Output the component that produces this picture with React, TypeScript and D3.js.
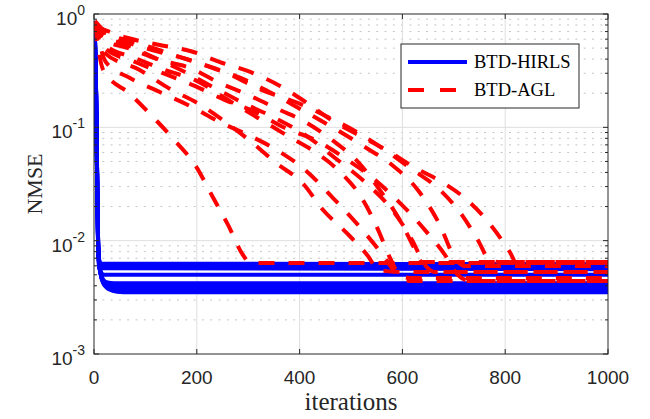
import React from "react";
import * as d3 from "d3";

type Pt = [number, number];

const xTicks = [0, 200, 400, 600, 800, 1000];
const yDecades = [0, -1, -2, -3];
const yMinorMult = [2, 3, 4, 5, 6, 7, 8, 9];
const legendLabels = ["BTD-HIRLS", "BTD-AGL"];
const xLabel = "iterations";
const yLabel = "NMSE";

// BTD-HIRLS runs
const hirls1: Pt[] = [[1, 0.85], [4, 0.21], [6, 0.04], [8, 0.0095], [10, 0.0068], [14, 0.0063], [1000, 0.0062]];
const hirls2: Pt[] = [[1, 0.86], [4, 0.2], [6, 0.038], [8, 0.009], [10, 0.0064], [14, 0.006], [1000, 0.0059]];
const hirls3: Pt[] = [[1, 0.84], [4, 0.19], [6, 0.036], [8, 0.0088], [10, 0.0062], [15, 0.0057], [1000, 0.0056]];
const hirls4: Pt[] = [[1, 0.85], [4, 0.2], [6, 0.037], [8, 0.0086], [10, 0.0058], [14, 0.0052], [20, 0.005], [1000, 0.005]];
const hirls5: Pt[] = [[1, 0.86], [4, 0.22], [6, 0.042], [8, 0.0098], [10, 0.0066], [13, 0.0053], [17, 0.0046], [24, 0.0043], [40, 0.0042], [1000, 0.0042]];
const hirls6: Pt[] = [[1, 0.85], [4, 0.2], [6, 0.04], [8, 0.0095], [10, 0.0064], [13, 0.0051], [18, 0.0044], [26, 0.0041], [45, 0.004], [1000, 0.004]];
const hirls7: Pt[] = [[1, 0.87], [4, 0.21], [6, 0.041], [8, 0.0097], [10, 0.0065], [13, 0.0051], [18, 0.0043], [27, 0.0039], [45, 0.0038], [1000, 0.0038]];
const hirls8: Pt[] = [[1, 0.85], [4, 0.2], [6, 0.039], [8, 0.0093], [10, 0.0063], [13, 0.005], [18, 0.0042], [28, 0.0038], [50, 0.00366], [1000, 0.00365]];
const hirls9: Pt[] = [[1, 0.86], [4, 0.21], [6, 0.04], [8, 0.0096], [10, 0.0064], [13, 0.0051], [17, 0.0044], [22, 0.004], [30, 0.0037], [45, 0.00355], [70, 0.0035], [1000, 0.0035]];

// BTD-AGL runs
const agl1: Pt[] = [[2, 0.8], [18, 0.32], [70, 0.197], [115, 0.123], [158, 0.0757], [198, 0.0456], [230, 0.0248], [261, 0.0137], [290, 0.00747], [304, 0.00635], [1000, 0.00635]];
const agl2: Pt[] = [[2, 0.784], [66, 0.614], [128, 0.533], [187, 0.472], [245, 0.377], [304, 0.308], [362, 0.232], [412, 0.167], [459, 0.118], [518, 0.0839], [572, 0.0618], [625, 0.0438], [677, 0.0329], [728, 0.0224], [772, 0.0137], [809, 0.00794], [821, 0.00648], [1000, 0.00648]];
const agl3: Pt[] = [[2, 0.816], [19, 0.462], [89, 0.321], [148, 0.218], [204, 0.161], [261, 0.107], [304, 0.0757], [352, 0.0494], [409, 0.031], [444, 0.019], [490, 0.0119], [533, 0.00732], [553, 0.00551], [595, 0.00529], [1000, 0.00529]];
const agl4: Pt[] = [[2, 0.833], [21, 0.533], [80, 0.409], [138, 0.321], [196, 0.262], [261, 0.174], [319, 0.121], [377, 0.0839], [430, 0.0606], [479, 0.0403], [521, 0.0238], [553, 0.0124], [576, 0.00703], [595, 0.00498], [615, 0.00469], [1000, 0.00469]];
const agl5: Pt[] = [[2, 0.85], [23, 0.377], [70, 0.272], [128, 0.205], [187, 0.154], [245, 0.111], [304, 0.0839], [362, 0.0606], [411, 0.042], [463, 0.0243], [514, 0.0137], [562, 0.00747], [591, 0.00498], [615, 0.00441], [1000, 0.00441]];
const agl6: Pt[] = [[2, 0.833], [19, 0.59], [66, 0.501], [128, 0.393], [187, 0.334], [241, 0.251], [300, 0.193], [362, 0.142], [412, 0.111], [463, 0.0773], [514, 0.0494], [556, 0.028], [595, 0.0152], [625, 0.00828], [638, 0.00648], [1000, 0.00648]];
const agl7: Pt[] = [[2, 0.85], [19, 0.64], [60, 0.543], [119, 0.409], [177, 0.308], [235, 0.222], [294, 0.161], [352, 0.121], [411, 0.0856], [469, 0.0536], [527, 0.0329], [580, 0.0187], [619, 0.0101], [644, 0.0061], [663, 0.00529], [1000, 0.00529]];
const agl8: Pt[] = [[2, 0.868], [18, 0.723], [54, 0.59], [113, 0.481], [173, 0.409], [233, 0.334], [294, 0.262], [352, 0.193], [411, 0.137], [473, 0.0947], [527, 0.067], [580, 0.0465], [630, 0.028], [673, 0.0137], [702, 0.00703], [722, 0.00597], [1000, 0.00597]];
const agl9: Pt[] = [[2, 0.85], [19, 0.694], [80, 0.566], [138, 0.462], [196, 0.377], [261, 0.296], [327, 0.213], [401, 0.161], [459, 0.121], [518, 0.0873], [566, 0.0631], [615, 0.0438], [673, 0.028], [716, 0.0168], [747, 0.0101], [770, 0.00675], [790, 0.00648], [1000, 0.00648]];
const agl10: Pt[] = [[2, 0.85], [21, 0.501], [80, 0.377], [138, 0.296], [196, 0.232], [255, 0.174], [313, 0.137], [372, 0.0986], [430, 0.0773], [488, 0.0536], [547, 0.0343], [599, 0.0207], [644, 0.0124], [683, 0.00747], [708, 0.00498], [732, 0.00441], [1000, 0.00441]];

const hirlsRuns = [hirls1, hirls2, hirls3, hirls4, hirls5, hirls6, hirls7, hirls8, hirls9];
const aglRuns = [agl1, agl2, agl3, agl4, agl5, agl6, agl7, agl8, agl9, agl10];

const W = 650;
const H = 419;
const L = 94, R = 608, T = 14, B = 354;
const AX = "#262626";
const SANS = "'Liberation Sans', Arial, Helvetica, sans-serif";
const SERIF = "'Liberation Serif', 'Times New Roman', serif";

export default function App() {
  const x = d3.scaleLinear().domain([0, 1000]).range([L, R]);
  const y = d3.scaleLog().domain([1e-3, 1]).range([B, T]);
  const line = d3
    .line<Pt>()
    .x((d) => x(d[0]))
    .y((d) => y(d[1]))
    .curve(d3.curveMonotoneX);

  const minorVals: number[] = [];
  yDecades.slice(1).forEach((e) => yMinorMult.forEach((m) => minorVals.push(m * Math.pow(10, e))));

  return (
    <svg width={W} height={H} style={{ position: "absolute", left: 0, top: 0, background: "#fff" }}>
      <defs>
        <clipPath id="plotClip">
          <rect x={L} y={T} width={R - L} height={B - T} />
        </clipPath>
      </defs>
      <rect x={0} y={0} width={W} height={H} fill="#fff" />
      {/* minor grid */}
      {minorVals.map((v, i) => (
        <line key={"mg" + i} x1={L} x2={R} y1={y(v)} y2={y(v)} stroke="#c4c4c4" strokeWidth={1} strokeDasharray="2 6.3" />
      ))}
      {/* major grid */}
      {xTicks.slice(1, -1).map((t) => (
        <line key={"gx" + t} x1={x(t)} x2={x(t)} y1={T} y2={B} stroke="#dedede" strokeWidth={1} />
      ))}
      {yDecades.slice(1, -1).map((e) => (
        <line key={"gy" + e} x1={L} x2={R} y1={y(Math.pow(10, e))} y2={y(Math.pow(10, e))} stroke="#dedede" strokeWidth={1} />
      ))}
      {/* data */}
      <g clipPath="url(#plotClip)" fill="none">
        {hirlsRuns.map((d, i) => (
          <path key={"h" + i} d={line(d) || ""} stroke="#0000ff" strokeWidth={4} strokeLinejoin="round" />
        ))}
        {aglRuns.map((d, i) => (
          <path key={"a" + i} d={line(d) || ""} stroke="#ff0000" strokeWidth={4} strokeDasharray="16 14" />
        ))}
      </g>
      {/* axes box */}
      <rect x={L} y={T} width={R - L} height={B - T} fill="none" stroke={AX} strokeWidth={1} />
      {/* x ticks */}
      {xTicks.map((t) => (
        <g key={"xt" + t}>
          <line x1={x(t)} x2={x(t)} y1={B} y2={B - 5} stroke={AX} />
          <line x1={x(t)} x2={x(t)} y1={T} y2={T + 5} stroke={AX} />
          <text x={x(t)} y={B + 30} textAnchor="middle" fontFamily={SANS} fontSize={19} fill={AX}>
            {t}
          </text>
        </g>
      ))}
      {/* y ticks */}
      {yDecades.map((e) => {
        const yy = y(Math.pow(10, e));
        return (
          <g key={"yt" + e}>
            <line x1={L} x2={L + 5} y1={yy} y2={yy} stroke={AX} />
            <line x1={R} x2={R - 5} y1={yy} y2={yy} stroke={AX} />
            <text x={85} y={yy + 11} textAnchor="end" fontFamily={SANS} fontSize={19} fill={AX}>
              10
              <tspan dy={-10} fontSize={14}>
                {String(e)}
              </tspan>
            </text>
          </g>
        );
      })}
      {minorVals.map((v, i) => (
        <g key={"ymt" + i}>
          <line x1={L} x2={L + 3} y1={y(v)} y2={y(v)} stroke={AX} />
          <line x1={R} x2={R - 3} y1={y(v)} y2={y(v)} stroke={AX} />
        </g>
      ))}
      {/* axis labels */}
      <text x={(L + R) / 2} y={410} textAnchor="middle" fontFamily={SERIF} fontSize={25} fill={AX}>
        {xLabel}
      </text>
      <text transform={`translate(42,${(T + B) / 2}) rotate(-90)`} textAnchor="middle" fontFamily={SERIF} fontSize={22} fill={AX}>
        {yLabel}
      </text>
      {/* legend */}
      <g>
        <rect x={401} y={44} width={178} height={64} fill="#fff" stroke={AX} strokeWidth={1} />
        <line x1={408} x2={467} y1={62} y2={62} stroke="#0000ff" strokeWidth={4} />
        <line x1={408} x2={467} y1={90} y2={90} stroke="#ff0000" strokeWidth={4} strokeDasharray="16 16" />
        <text x={474} y={67.5} fontFamily={SERIF} fontSize={18.5} fill="#000">
          {legendLabels[0]}
        </text>
        <text x={474} y={95.5} fontFamily={SERIF} fontSize={18.5} fill="#000">
          {legendLabels[1]}
        </text>
      </g>
    </svg>
  );
}
